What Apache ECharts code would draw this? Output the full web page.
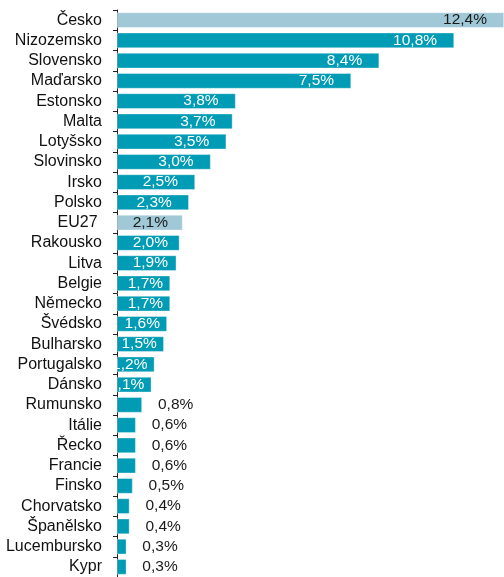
<!DOCTYPE html>
<html>
<head>
<meta charset="utf-8">
<script src="https://cdn.jsdelivr.net/npm/echarts@6/dist/echarts.min.js"></script>
<style>
html,body{margin:0;padding:0;background:#fff;}
#chart{width:504px;height:577px;}
</style>
</head>
<body>
<div id="chart"></div>
<script>
var categories = ["Česko","Nizozemsko","Slovensko","Maďarsko","Estonsko","Malta","Lotyšsko","Slovinsko","Irsko","Polsko","EU27 ","Rakousko","Litva","Belgie","Německo","Švédsko","Bulharsko","Portugalsko","Dánsko","Rumunsko","Itálie","Řecko","Francie","Finsko","Chorvatsko","Španělsko","Lucembursko","Kypr"];
var values = [12.4,10.8,8.4,7.5,3.8,3.7,3.5,3.0,2.5,2.3,2.1,2.0,1.9,1.7,1.7,1.6,1.5,1.2,1.1,0.8,0.6,0.6,0.6,0.5,0.4,0.4,0.3,0.3];
var highlighted = ["Česko","EU27 "];

var FONT = "Arial, 'Liberation Sans', sans-serif";
var TEAL = "#009bb4";
var LIGHT = "#a0c8d6";
var XMAX = 12.4;
var GRID_LEFT = 117, GRID_RIGHT = -2;
var pxPerUnit = (504 - GRID_LEFT - GRID_RIGHT) / XMAX;

var cv = document.createElement('canvas').getContext('2d');
cv.font = "15.5px " + FONT;

function fmt(v){ return v.toFixed(1).replace('.', ',') + '%'; }

var data = values.map(function(v, i){
  var isHi = highlighted.indexOf(categories[i]) >= 0;
  var item = { value: v, itemStyle: { color: isHi ? LIGHT : TEAL } };
  if (v < 1.0) {
    item.label = { position: 'right', distance: 16, color: '#1a1a1a' };
  } else {
    var tw = cv.measureText(fmt(v)).width;
    var barLen = v * pxPerUnit;
    var d = Math.max(7, Math.min(17, barLen - tw - 16));
    item.label = { position: 'insideRight', distance: d, color: isHi ? '#1a1a1a' : '#ffffff' };
  }
  return item;
});

var chart = echarts.init(document.getElementById('chart'), null, {renderer: 'canvas'});
chart.setOption({
  animation: false,
  backgroundColor: '#ffffff',
  grid: { left: GRID_LEFT, right: GRID_RIGHT, top: 10, bottom: -1, containLabel: false },
  xAxis: {
    type: 'value', min: 0, max: XMAX, show: false,
    splitLine: { show: false }
  },
  yAxis: {
    type: 'category',
    data: categories,
    inverse: true,
    axisLine: { show: true, lineStyle: { color: '#222', width: 1 } },
    axisTick: { show: true, length: 4, inside: false, alignWithLabel: false, lineStyle: { color: '#222' } },
    axisLabel: { color: '#111', fontSize: 16, fontFamily: FONT, margin: 15, interval: 0 },
    splitLine: { show: false }
  },
  series: [{
    type: 'bar',
    data: data,
    barCategoryGap: '24%',
    itemStyle: { borderColor: 'rgba(255,255,255,0.6)', borderWidth: 0.6 },
    label: {
      show: true,
      fontSize: 15.5,
      fontFamily: FONT,
      formatter: function(p){ return fmt(p.value); }
    }
  }]
});
</script>
</body>
</html>
